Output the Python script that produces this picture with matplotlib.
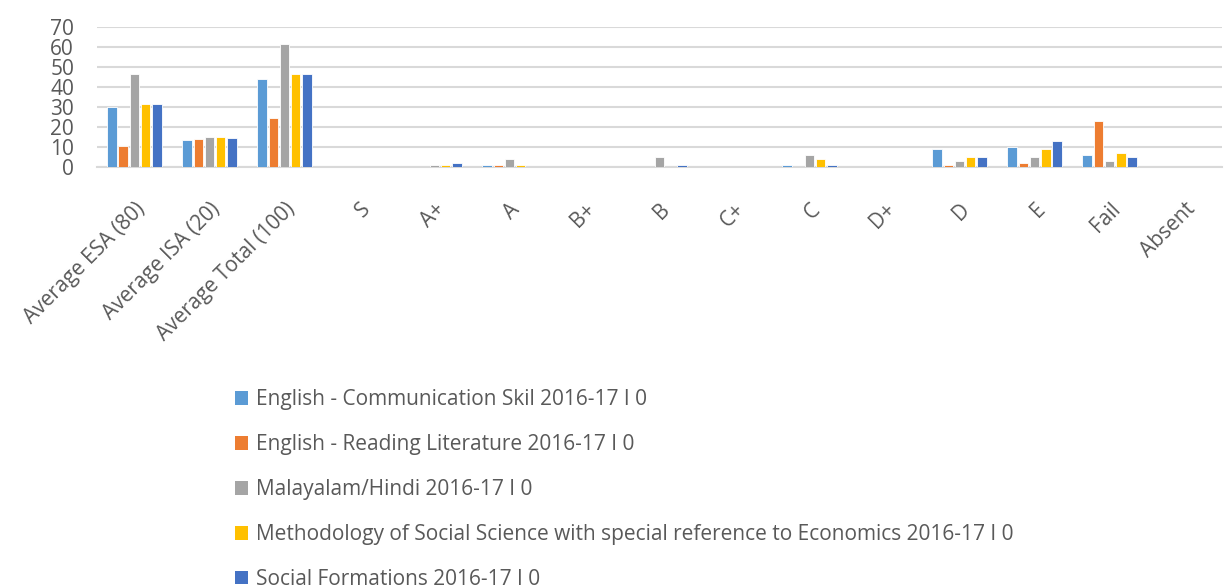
import matplotlib.pyplot as plt
import numpy as np
from matplotlib.patches import Patch

plt.rcParams['font.family'] = ['Open Sans', 'DejaVu Sans']

categories = ['Average ESA (80)', 'Average ISA (20)', 'Average Total (100)', 'S', 'A+', 'A',
              'B+', 'B', 'C+', 'C', 'D+', 'D', 'E', 'Fail', 'Absent']
series_names = ['English - Communication Skil 2016-17 I 0',
                'English - Reading Literature 2016-17 I 0',
                'Malayalam/Hindi 2016-17 I 0',
                'Methodology of Social Science with special reference to Economics 2016-17 I 0',
                'Social Formations 2016-17 I 0']
comm_skill = [30.2, 13.4, 43.8, 0, 0, 1, 0, 0, 0, 1, 0, 9, 10, 6, 0]
reading_lit = [10.6, 13.8, 24.6, 0, 0, 1, 0, 0, 0, 0, 0, 1, 2, 23, 0]
malayalam = [46.3, 15.1, 61.5, 0, 1, 4, 0, 5, 0, 6, 0, 3, 5, 3, 0]
methodology = [31.7, 14.9, 46.6, 0, 1, 1, 0, 0, 0, 4, 0, 5, 9, 7, 0]
social_form = [31.3, 14.6, 46.4, 0, 2, 0, 0, 1, 0, 1, 0, 5, 13, 5, 0]
colors = ['#5B9BD5', '#ED7D31', '#A5A5A5', '#FFC000', '#4472C4']

fig = plt.figure(figsize=(12.27, 5.88), dpi=100)
ax = fig.add_axes([0.079, 0.716, 0.917, 0.238])

x = np.arange(len(categories))
step = 0.15
for i, vals in enumerate([comm_skill, reading_lit, malayalam, methodology, social_form]):
    ax.bar(x + (i - 2) * step, vals, width=0.125, color=colors[i], edgecolor='white',
           linewidth=0.6, zorder=3)

ax.set_xlim(-0.5, len(categories) - 0.5)
ax.set_ylim(0, 70)
ax.set_yticks(range(0, 71, 10))
ax.yaxis.grid(True, color='#D9D9D9', linewidth=1.5, zorder=0)
for s in ['top', 'right', 'left']:
    ax.spines[s].set_visible(False)
ax.spines['bottom'].set_color('#D9D9D9')
ax.spines['bottom'].set_linewidth(1.5)
ax.tick_params(axis='both', length=0, colors='#595959')
ax.tick_params(axis='y', labelsize=15, pad=16.5)
ax.tick_params(axis='x', pad=23)
ax.set_xticks(x)
ax.set_xticklabels(categories, rotation=45, ha='right', rotation_mode='anchor', fontsize=15)

# 图例放在下面，竖着排
handles = [Patch(facecolor=c, edgecolor='none') for c in colors]
fig.legend(handles, series_names, loc='upper left', bbox_to_anchor=(0.185, 0.352),
           frameon=False, fontsize=15, labelcolor='#595959', handlelength=0.6,
           handleheight=0.6, handletextpad=0.4, labelspacing=1.15, borderaxespad=0)

fig.savefig('out.png', dpi=100)
